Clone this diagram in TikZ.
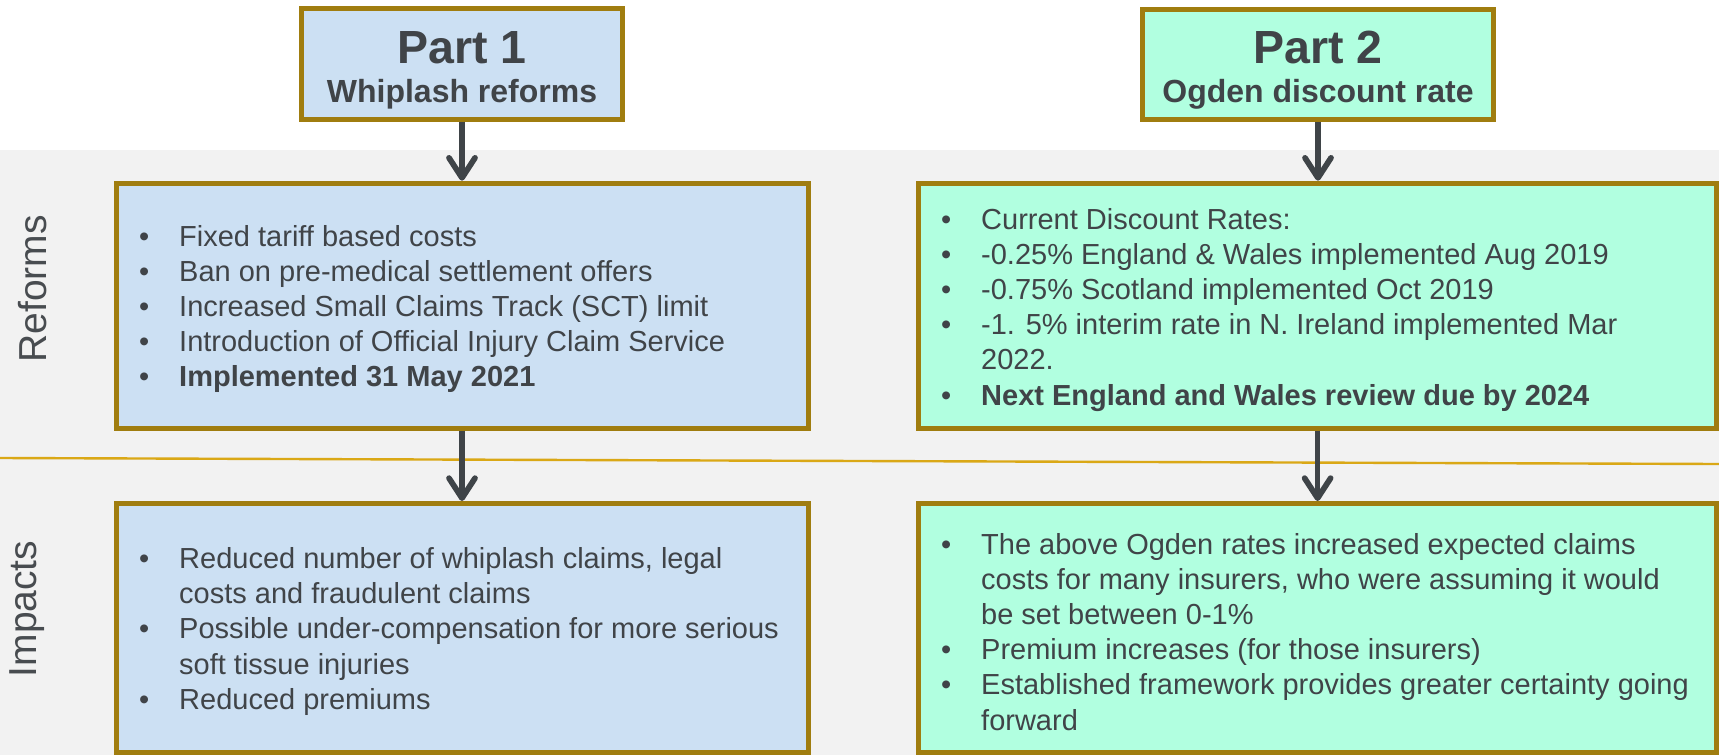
\documentclass[tikz,border=0pt]{standalone}
\usepackage{fontspec}
\setmainfont{Liberation Sans}
\usetikzlibrary{arrows.meta}
\definecolor{gold}{RGB}{160,125,15}
\definecolor{bluefill}{RGB}{204,224,243}
\definecolor{mintfill}{RGB}{177,255,224}
\definecolor{bandc}{RGB}{242,242,242}
\definecolor{txtc}{RGB}{64,68,72}
\definecolor{arrowc}{RGB}{63,68,72}
\definecolor{linec}{RGB}{218,168,22}
\definecolor{labelc}{RGB}{72,76,80}
\newcommand\bodyfnt{\fontsize{29}{35.2}\selectfont}
\newenvironment{blist}{\bodyfnt\begin{tabular}[t]{@{\hspace{22pt}}p{40pt}@{}l@{}}}{\end{tabular}}
\tikzset{
  hbox/.style={draw=gold, line width=5pt, inner sep=0pt},
  lbox/.style={draw=gold, line width=5pt, inner sep=0pt},
  ttl/.style={text=txtc, font=\fontsize{46.5}{46.5}\selectfont\bfseries, inner sep=0pt, anchor=base},
  sttl/.style={text=txtc, font=\fontsize{32}{32}\selectfont\bfseries, inner sep=0pt, anchor=base},
  listtext/.style={text=txtc, inner sep=0pt, anchor=base west},
  sidelabel/.style={text=labelc, font=\fontsize{39}{39}\selectfont, inner sep=0pt, anchor=base, rotate=90},
  arr/.style={draw=arrowc, line width=5.7pt, -{Straight Barb[length=20pt,width=26pt,round]}}
}
\begin{document}
\begin{tikzpicture}[x=1pt,y=-1pt]
\useasboundingbox (0,0) rectangle (1719,755);
\fill[white] (0,0) rectangle (1719,755);
\fill[bandc] (0,150) rectangle (1719,755);
\draw[linec, line width=2.4pt] (0,458) -- (1719,464);

% headers
\node[hbox, fill=bluefill, minimum width=321pt, minimum height=110.5pt] (p1) at (462,63.75) {};
\node[ttl] (p1a) at (462,63.3) {Part 1};
\node[sttl] (p1b) at (462,102) {Whiplash reforms};
\node[hbox, fill=mintfill, minimum width=351pt, minimum height=110pt] (p2) at (1318,64.5) {};
\node[ttl] (p2a) at (1318,63.3) {Part 2};
\node[sttl] (p2b) at (1318,102.5) {Ogden discount rate};

% side labels
\node[sidelabel] (lref) at (46,289) {Reforms};
\node[sidelabel] (limp) at (36,609) {Impacts};

% reform boxes
\node[lbox, fill=bluefill, minimum width=692pt, minimum height=245pt] (r1) at (462,305.7) {};
\node[lbox, fill=mintfill, minimum width=797.7pt, minimum height=245pt] (r2) at (1317.6,305.7) {};
% impact boxes
\node[lbox, fill=bluefill, minimum width=692pt, minimum height=249pt] (i1) at (462,628) {};
\node[lbox, fill=mintfill, minimum width=797.7pt, minimum height=249pt] (i2) at (1317.6,628) {};

\node[listtext] (r1t) at (117,246) {\begin{blist}
\textbullet & Fixed tariff based costs\\
\textbullet & Ban on pre-medical settlement offers\\
\textbullet & Increased Small Claims Track (SCT) limit\\
\textbullet & Introduction of Official Injury Claim Service\\
\textbullet & \textbf{Implemented 31 May 2021}
\end{blist}};

\node[listtext] (r2t) at (919,229) {\begin{blist}
\textbullet & Current Discount Rates:\\
\textbullet & -0.25\% England \& Wales implemented Aug 2019\\
\textbullet & -0.75\% Scotland implemented Oct 2019\\
\textbullet & -1. 5\% interim rate in N. Ireland implemented Mar\\
 & 2022.\\
\textbullet & \textbf{Next England and Wales review due by 2024}
\end{blist}};

\node[listtext] (i1t) at (117,568.5) {\begin{blist}
\textbullet & Reduced number of whiplash claims, legal\\
 & costs and fraudulent claims\\
\textbullet & Possible under-compensation for more serious\\
 & soft tissue injuries\\
\textbullet & Reduced premiums
\end{blist}};

\node[listtext] (i2t) at (919,554) {\begin{blist}
\textbullet & The above Ogden rates increased expected claims\\
 & costs for many insurers, who were assuming it would\\
 & be set between 0-1\%\\
\textbullet & Premium increases (for those insurers)\\
\textbullet & Established framework provides greater certainty going\\
 & forward
\end{blist}};

% arrows
\draw[arr] (p1.south) -- (r1.north);
\draw[arr] (p2.south) -- (p2.south |- r2.north);
\draw[arr] (r1.south) -- (i1.north);
\draw[arr] (r2.south) -- (r2.south |- i2.north);
\end{tikzpicture}
\end{document}
